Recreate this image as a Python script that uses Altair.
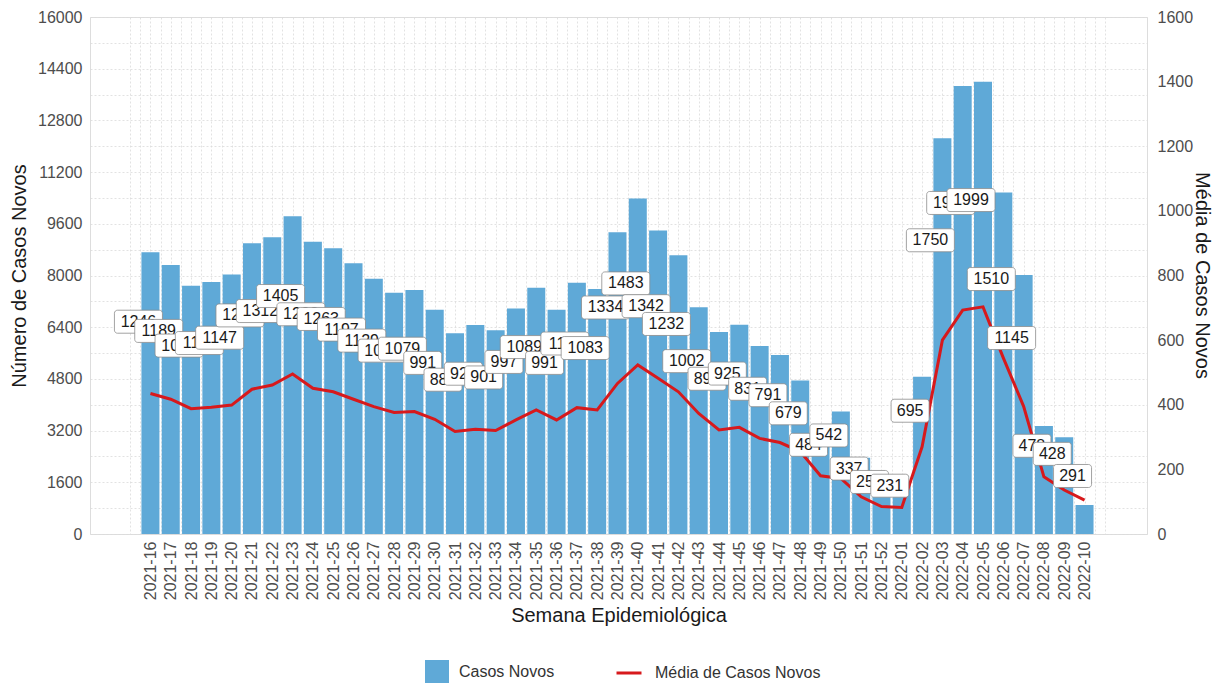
import altair as alt
import pandas as pd

semanas = [
    "2021-16", "2021-17", "2021-18", "2021-19", "2021-20", "2021-21", "2021-22", "2021-23",
    "2021-24", "2021-25", "2021-26", "2021-27", "2021-28", "2021-29", "2021-30", "2021-31",
    "2021-32", "2021-33", "2021-34", "2021-35", "2021-36", "2021-37", "2021-38", "2021-39",
    "2021-40", "2021-41", "2021-42", "2021-43", "2021-44", "2021-45", "2021-46", "2021-47",
    "2021-48", "2021-49", "2021-50", "2021-51", "2021-52", "2022-01", "2022-02", "2022-03",
    "2022-04", "2022-05", "2022-06", "2022-07", "2022-08", "2022-09", "2022-10",
]
casos_novos = [
    8722, 8323, 7686, 7798, 8029, 8995, 9184, 9835,
    9044, 8841, 8379, 7903, 7469, 7553, 6937, 6209,
    6468, 6307, 6979, 7623, 6937, 7777, 7581, 9338,
    10381, 9394, 8624, 7014, 6251, 6475, 5817, 5537,
    4753, 3388, 3794, 2359, 1778, 1617, 4865, 12250,
    13867, 13993, 10570, 8015, 3346, 2996, 898,
]
media_diaria = [
    1246, 1189, 1098, 1114, 1147, 1285, 1312, 1405,
    1292, 1263, 1197, 1129, 1067, 1079, 991, 887,
    924, 901, 997, 1089, 991, 1111, 1083, 1334,
    1483, 1342, 1232, 1002, 893, 925, 831, 791,
    679, 484, 542, 337, 254, 231, 695, 1750,
    1981, 1999, 1510, 1145, 478, 428, 291,
]
media_casos = [
    435, 417, 388, 392, 399, 448, 461, 495,
    451, 440, 417, 394, 376, 379, 355, 317,
    324, 320, 353, 384, 353, 391, 384, 466,
    523, 482, 440, 373, 322, 330, 296, 283,
    255, 180, 172, 115, 85, 82, 270, 600,
    693, 703, 545, 395, 177, 136, 105,
]

n = len(semanas)
df = pd.DataFrame({
    "idx": list(range(n)),
    "semana": semanas,
    "casos": casos_novos,
    "rotulo": media_diaria,
    "media": media_casos,
})

FONT = "Liberation Sans"
BLUE = "#5FA9D7"
RED = "#D7191C"
GRID = "#DADADA"

weeks_js = "[" + ",".join(f"'{w}'" for w in semanas) + "]"
x_vals = [-1 + 0.5 * k for k in range(2 * (n + 1) + 1)]

x_axis = alt.Axis(
    values=x_vals,
    labelExpr=f"(datum.value >= 0 && datum.value <= {n - 1} && datum.value % 1 == 0) ? {weeks_js}[datum.value] : ''",
    labelAngle=270, labelAlign="right", labelBaseline="middle",
    labelFont=FONT, labelFontSize=16, labelColor="#4D4D4D", labelPadding=7,
    labelOverlap=False, labelFlush=False,
    grid=True, gridColor=GRID, gridDash=[2, 2], gridWidth=0.8,
    ticks=False, domain=False,
    title="Semana Epidemiológica", titleFont=FONT, titleFontSize=20,
    titleFontWeight="normal", titleColor="#1A1A1A", titlePadding=6,
)
x_enc = alt.X("idx:Q", scale=alt.Scale(domain=[-2.73, 48.83], nice=False, zero=False), axis=x_axis)

left_axis = alt.Axis(
    orient="left",
    values=list(range(0, 16001, 800)),
    labelExpr="datum.value % 1600 == 0 ? format(datum.value, 'd') : ''",
    labelFont=FONT, labelFontSize=16, labelColor="#4D4D4D", labelPadding=8,
    grid=True, gridColor=GRID, gridDash=[2, 2], gridWidth=0.8,
    ticks=False, domain=False,
    title="Número de Casos Novos", titleFont=FONT, titleFontSize=20,
    titleFontWeight="normal", titleColor="#1A1A1A", titlePadding=8,
)
left_scale = alt.Scale(domain=[0, 16000], nice=False, zero=True)

right_axis = alt.Axis(
    orient="right",
    values=list(range(0, 1601, 200)),
    format="d",
    labelFont=FONT, labelFontSize=16, labelColor="#4D4D4D", labelPadding=10,
    grid=False, ticks=False, domain=False,
    title="Média de Casos Novos", titleFont=FONT, titleFontSize=20,
    titleFontWeight="normal", titleColor="#1A1A1A",
    titleX=54, titleY=258, titleAngle=90, titleAlign="center", titleBaseline="middle",
)

bars = alt.Chart().mark_bar(size=18).encode(
    x=x_enc,
    y=alt.Y("casos:Q", scale=left_scale, axis=left_axis),
    color=alt.Color(
        "serie_b:N",
        scale=alt.Scale(domain=["Casos Novos"], range=[BLUE]),
        legend=alt.Legend(
            orient="none", legendX=335, legendY=643, title=None,
            symbolType="square", symbolSize=576, symbolStrokeWidth=0,
            labelFont=FONT, labelFontSize=16, labelColor="#333333", labelOffset=10,
            labelLimit=400,
        ),
    ),
).transform_calculate(serie_b="'Casos Novos'")

line = alt.Chart().mark_line(strokeWidth=3).encode(
    x=x_enc,
    y=alt.Y("media10:Q", scale=left_scale, axis=left_axis),
    stroke=alt.Stroke(
        "serie_l:N",
        scale=alt.Scale(domain=["Média de Casos Novos"], range=[RED]),
        legend=alt.Legend(
            orient="none", legendX=525, legendY=642, title=None,
            symbolType="stroke", symbolSize=625, symbolStrokeWidth=3,
            labelFont=FONT, labelFontSize=16, labelColor="#333333", labelOffset=12,
            labelLimit=400,
        ),
    ),
).transform_calculate(serie_l="'Média de Casos Novos'", media10="datum.media * 10")

DX = -12
label_layers = []
for i, v in enumerate(media_diaria):
    w = 48 if v >= 1000 else 38
    box = alt.Chart().mark_rect(
        xOffset=DX - w / 2, x2Offset=DX + w / 2, yOffset=-11.5, y2Offset=11.5,
        fill="white", stroke="#8C8C8C", strokeWidth=0.8, cornerRadius=3,
    ).encode(
        x=x_enc, x2="idx:Q",
        y=alt.Y("label_y:Q", scale=left_scale, axis=left_axis), y2="label_y:Q",
    ).transform_filter(f"datum.idx == {i}")
    txt = alt.Chart().mark_text(
        dx=DX, fontSize=16, font=FONT, color="#1A1A1A", baseline="middle", align="center",
    ).encode(
        x=x_enc,
        y=alt.Y("label_y:Q", scale=left_scale, axis=left_axis),
        text=alt.Text("rotulo:Q", format="d"),
    ).transform_filter(f"datum.idx == {i}")
    label_layers += [box, txt]

left_group = alt.layer(bars, line, *label_layers)

right_layer = alt.Chart().mark_line(opacity=0).encode(
    x=x_enc,
    y=alt.Y("media:Q", scale=alt.Scale(domain=[0, 1600], nice=False), axis=right_axis),
)

chart = alt.layer(left_group, right_layer, data=df).transform_calculate(
    label_y="datum.rotulo * 5 + 340"
).resolve_scale(y="independent").properties(
    width=1057, height=517,
    padding={"left": 82, "top": 9, "right": 66, "bottom": 149},
    autosize=alt.AutoSizeParams(type="none"),
).configure_view(stroke=None).configure(background="white")

chart.save("out.html", embed_options={"renderer": "svg", "actions": False})
